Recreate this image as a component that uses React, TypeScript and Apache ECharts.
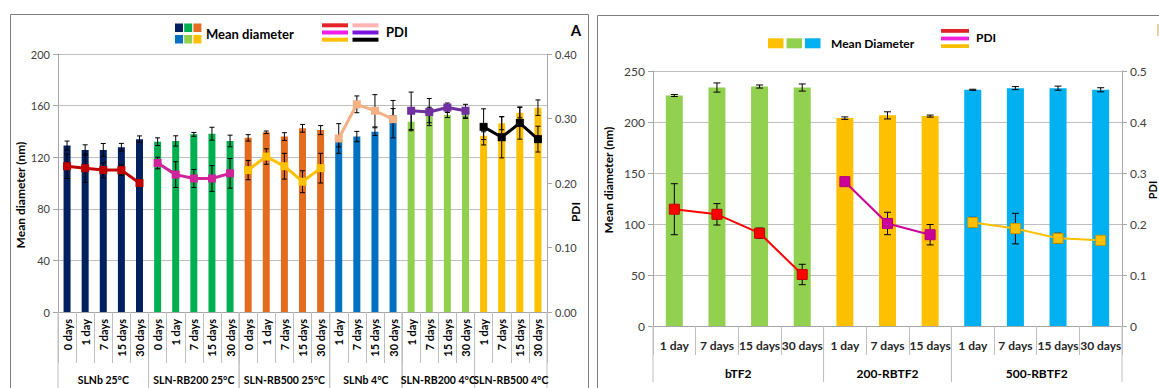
import { useEffect, useRef } from "react";
import * as echarts from "echarts";

// ---------- Panel A data ----------
const groupsA = ["SLNb 25°C", "SLN-RB200 25°C", "SLN-RB500 25°C", "SLNb 4°C", "SLN-RB200 4°C", "SLN-RB500 4°C"];
const daysA = [
  ["0 days", "1 day", "7 days", "15 days", "30 days"],
  ["0 days", "1 day", "7 days", "15 days", "30 days"],
  ["0 days", "1 day", "7 days", "15 days", "30 days"],
  ["1 day", "7 days", "15 days", "30 days"],
  ["1 day", "7 days", "15 days", "30 days"],
  ["1 day", "7 days", "15 days", "30 days"],
];
const diamA = [
  [129, 125.6, 125.6, 127.7, 134],
  [132, 132.6, 137.7, 138.2, 132.6],
  [135, 139.3, 136, 142.4, 141],
  [132, 136, 139.8, 152.7],
  [147.5, 152.7, 152.7, 154],
  [136.7, 146.3, 154.5, 158.4],
];
const diamErrA = [
  [3.5, 4, 5, 3, 2.5],
  [3, 4, 1.5, 5, 4.5],
  [2.5, 1, 3, 3, 3.5],
  [4, 4, 3, 5],
  [7, 6, 2, 4],
  [3, 5, 4, 6],
];
const pdiA = [
  [0.226, 0.223, 0.22, 0.22, 0.2],
  [0.231, 0.213, 0.207, 0.207, 0.215],
  [0.22, 0.241, 0.226, 0.202, 0.223],
  [0.269, 0.322, 0.312, 0.299],
  [0.312, 0.31, 0.317, 0.312],
  [0.287, 0.271, 0.293, 0.268],
];
const pdiErrA = [
  [0.019, 0.022, 0.012, 0.008, 0.004],
  [0.009, 0.02, 0.014, 0.02, 0.023],
  [0.015, 0.012, 0.02, 0.017, 0.023],
  [0.023, 0.013, 0.025, 0.029],
  [0.029, 0.021, 0.007, 0.01],
  [0.028, 0.032, 0.025, 0.02],
];
const barColorsA = ["#002060", "#00b050", "#e46c1f", "#0070c0", "#92d050", "#ffc000"];
const lineColorsA = ["#c00000", "#d1249b", "#ffc000", "#f4b183", "#7030a0", "#000000"];

// ---------- Panel B data ----------
const groupsB = ["bTF2", "200-RBTF2", "500-RBTF2"];
const daysB = [
  ["1 day", "7 days", "15 days", "30 days"],
  ["1 day", "7 days", "15 days"],
  ["1 day", "7 days", "15 days", "30 days"],
];
const diamB = [
  [226, 233.8, 234.8, 233.8],
  [203.8, 206.5, 205.8],
  [231.6, 233.2, 233.2, 231.6],
];
const diamErrB = [
  [1, 4.5, 1.5, 3.5],
  [1.2, 3.5, 1],
  [0.5, 1.5, 2, 2],
];
const pdiB = [
  [0.229, 0.219, 0.182, 0.101],
  [0.283, 0.201, 0.179],
  [0.203, 0.191, 0.172, 0.168],
];
const pdiErrB = [
  [0.05, 0.021, 0.01, 0.02],
  [0.004, 0.022, 0.02],
  [0.01, 0.03, 0.01, 0.007],
];
const barColorsB = ["#92d050", "#ffc000", "#00b0f0"];
const lineColorsB = ["#ff0000", "#cc0099", "#ffc000"];
const markerBorderB = ["#c00000", "#b0007f", "#c89600"];

const FONT = "Lato, 'Open Sans', sans-serif";

function flat<T>(a: T[][]): T[] {
  return ([] as T[]).concat(...a);
}
function startsOf(days: string[][]): number[] {
  let s = 0;
  return days.map((d) => {
    const r = s;
    s += d.length;
    return r;
  });
}

function errSeries(xi: number, yi: number, data: number[][], cap: number) {
  return {
    type: "custom",
    xAxisIndex: xi,
    yAxisIndex: yi,
    data,
    z: 3,
    silent: true,
    clip: false,
    encode: { x: 0, y: 1 },
    renderItem: (_p: any, api: any) => {
      const x = api.value(0);
      const v = api.value(1);
      const e = api.value(2);
      const t = api.coord([x, v + e]);
      const b = api.coord([x, v - e]);
      const cx = t[0];
      const st = { stroke: "#000", lineWidth: 1 };
      return {
        type: "group",
        children: [
          { type: "line", shape: { x1: cx, y1: t[1], x2: cx, y2: b[1] }, style: st },
          { type: "line", shape: { x1: cx - cap, y1: t[1], x2: cx + cap, y2: t[1] }, style: st },
          { type: "line", shape: { x1: cx - cap, y1: b[1], x2: cx + cap, y2: b[1] }, style: st },
        ],
      };
    },
  };
}

function groupSeries(xi: number, yi: number, names: string[], starts: number[], days: string[][], sepLen: number, labelOff: number, fontSize: number) {
  return {
    type: "custom",
    xAxisIndex: xi,
    yAxisIndex: yi,
    silent: true,
    clip: false,
    data: starts.map((s, i) => [s, days[i].length]),
    encode: { x: 0 },
    renderItem: (params: any, api: any) => {
      const s = api.value(0);
      const n = api.value(1);
      const p = api.coord([s, 0]);
      const w = api.size([1, 0])[0];
      const l = p[0] - w / 2;
      const r = l + n * w;
      const st = { stroke: "#bfbfbf", lineWidth: 1 };
      return {
        type: "group",
        children: [
          { type: "line", shape: { x1: l, y1: p[1], x2: l, y2: p[1] + sepLen }, style: st },
          { type: "line", shape: { x1: r, y1: p[1], x2: r, y2: p[1] + sepLen }, style: st },
          {
            type: "text",
            style: {
              text: names[params.dataIndex],
              x: (l + r) / 2,
              y: p[1] + labelOff,
              align: "center",
              verticalAlign: "middle",
              fill: "#000",
              fontSize,
              fontWeight: "bold",
              fontFamily: FONT,
            },
          },
        ],
      };
    },
  };
}

export default function App() {
  const ref = useRef<HTMLDivElement>(null);
  useEffect(() => {
    if (!ref.current) return;
    const chart = echarts.init(ref.current, undefined, { renderer: "svg" });

    const catsA = flat(daysA);
    const startA = startsOf(daysA);
    const catsB = flat(daysB);
    const startB = startsOf(daysB);

    const barA = flat(diamA.map((vals, g) => vals.map((v) => ({ value: v, itemStyle: { color: barColorsA[g] } }))));
    const barErrA = flat(diamA.map((vals, g) => vals.map((v, j) => [startA[g] + j, v, diamErrA[g][j]])));
    const pdiErrDataA = flat(pdiA.map((vals, g) => vals.map((v, j) => [startA[g] + j, v, pdiErrA[g][j]])));
    const linesA = pdiA.map((vals, g) => ({
      type: "line",
      xAxisIndex: 0,
      yAxisIndex: 1,
      z: 5,
      data: catsA.map((_, i) => (i >= startA[g] && i < startA[g] + vals.length ? vals[i - startA[g]] : null)),
      symbol: "rect",
      symbolSize: 8,
      lineStyle: { color: lineColorsA[g], width: 3 },
      itemStyle: { color: lineColorsA[g] },
    }));

    const barB = flat(diamB.map((vals, g) => vals.map((v) => ({ value: v, itemStyle: { color: barColorsB[g] } }))));
    const barErrB = flat(diamB.map((vals, g) => vals.map((v, j) => [startB[g] + j, v, diamErrB[g][j]])));
    const pdiErrDataB = flat(pdiB.map((vals, g) => vals.map((v, j) => [startB[g] + j, v, pdiErrB[g][j]])));
    const linesB = pdiB.map((vals, g) => ({
      type: "line",
      xAxisIndex: 1,
      yAxisIndex: 3,
      z: 5,
      data: catsB.map((_, i) => (i >= startB[g] && i < startB[g] + vals.length ? vals[i - startB[g]] : null)),
      symbol: "rect",
      symbolSize: 10,
      lineStyle: { color: lineColorsB[g], width: 2 },
      itemStyle: { color: lineColorsB[g], borderColor: markerBorderB[g], borderWidth: 1 },
    }));

    const axisLineGray = { show: true, lineStyle: { color: "#a6a6a6" } };
    const tickLbl = { fontFamily: FONT, fontSize: 11, color: "#404040" };

    const sqA = [
      ["#002060", "#00b050", "#e46c1f"],
      ["#0070c0", "#92d050", "#ffc000"],
    ];
    const legA: any[] = [];
    sqA.forEach((row, r) =>
      row.forEach((c, k) =>
        legA.push({ type: "rect", shape: { x: 175 + k * 9.2, y: 23.5 + r * 11.5, width: 8, height: 8.5 }, style: { fill: c } })
      )
    );
    const pdiLegA = [
      ["#e8242b", "#f01ee6", "#ffc000"],
      ["#ffb3b3", "#7a16e0", "#000000"],
    ];
    pdiLegA.forEach((col, k) =>
      col.forEach((c, r) =>
        legA.push({ type: "rect", shape: { x: 322 + k * 30.5, y: 23.3 + r * 7.2, width: 26, height: 4 }, style: { fill: c } })
      )
    );
    const legB: any[] = [];
    ["#ffc000", "#92d050", "#00b0f0"].forEach((c, k) =>
      legB.push({ type: "rect", shape: { x: 768 + k * 18.5, y: 38.3, width: 15.5, height: 10 }, style: { fill: c } })
    );
    ["#e0202a", "#ee22dd", "#ffc000"].forEach((c, r) =>
      legB.push({ type: "rect", shape: { x: 941, y: 29 + r * 7.6, width: 28, height: 3.8 }, style: { fill: c } })
    );

    const txt = (text: string, x: number, y: number, size: number, rot = 0, align = "left") => ({
      type: "text",
      x,
      y,
      rotation: rot,
      style: { text, x: 0, y: 0, align, verticalAlign: "middle", fontFamily: FONT, fontSize: size, fontWeight: "bold", fill: "#000" },
    });

    chart.setOption({
      animation: false,
      grid: [
        { left: 58, top: 54, width: 489, height: 258 },
        { left: 653, top: 71, width: 469, height: 255 },
      ],
      xAxis: [
        {
          type: "category",
          gridIndex: 0,
          data: catsA,
          axisLine: axisLineGray,
          axisTick: { show: true, interval: 0, length: 51, lineStyle: { color: "#bfbfbf" } },
          axisLabel: { interval: 0, rotate: 90, margin: 7, fontFamily: FONT, fontSize: 11, fontWeight: "bold", color: "#000" },
        },
        {
          type: "category",
          gridIndex: 1,
          data: catsB,
          axisLine: axisLineGray,
          axisTick: { show: true, interval: 0, length: 29, lineStyle: { color: "#bfbfbf" } },
          axisLabel: { interval: 0, margin: 13, fontFamily: FONT, fontSize: 12, fontWeight: "bold", color: "#262626" },
        },
      ],
      yAxis: [
        {
          type: "value",
          gridIndex: 0,
          min: 0,
          max: 200,
          interval: 40,
          axisLine: axisLineGray,
          axisTick: { show: true, length: 5, lineStyle: { color: "#a6a6a6" } },
          axisLabel: { ...tickLbl, margin: 8 },
          splitLine: { show: true, lineStyle: { color: "#bfbfbf" } },
        },
        {
          type: "value",
          gridIndex: 0,
          position: "right",
          min: 0,
          max: 0.4,
          interval: 0.1,
          axisLine: axisLineGray,
          axisTick: { show: true, length: 5, lineStyle: { color: "#a6a6a6" } },
          axisLabel: { ...tickLbl, margin: 8, formatter: (v: number) => v.toFixed(2) },
          splitLine: { show: false },
        },
        {
          type: "value",
          gridIndex: 1,
          min: 0,
          max: 250,
          interval: 50,
          axisLine: axisLineGray,
          axisTick: { show: true, length: 5, lineStyle: { color: "#a6a6a6" } },
          axisLabel: { ...tickLbl, fontSize: 12, margin: 8 },
          splitLine: { show: true, lineStyle: { color: "#bfbfbf" } },
        },
        {
          type: "value",
          gridIndex: 1,
          position: "right",
          min: 0,
          max: 0.5,
          interval: 0.1,
          axisLine: axisLineGray,
          axisTick: { show: true, length: 5, lineStyle: { color: "#a6a6a6" } },
          axisLabel: { ...tickLbl, fontSize: 12, margin: 8 },
          splitLine: { show: false },
        },
      ],
      series: [
        { type: "bar", xAxisIndex: 0, yAxisIndex: 0, data: barA, barWidth: 7, z: 2 },
        errSeries(0, 0, barErrA, 2.5),
        errSeries(0, 1, pdiErrDataA, 2.5),
        ...linesA,
        groupSeries(0, 0, groupsA, startA, daysA, 80, 68, 10.5),
        { type: "bar", xAxisIndex: 1, yAxisIndex: 2, data: barB, barWidth: 17, z: 2 },
        errSeries(1, 2, barErrB, 3.5),
        errSeries(1, 3, pdiErrDataB, 3.5),
        ...linesB,
        groupSeries(1, 2, groupsB, startB, daysB, 56, 47, 12),
      ],
      graphic: [
        { type: "rect", shape: { x: 10.5, y: 14.5, width: 578, height: 420 }, style: { fill: "none", stroke: "#7f7f7f", lineWidth: 1 }, z: -1 },
        { type: "rect", shape: { x: 597.5, y: 15.5, width: 620, height: 420 }, style: { fill: "none", stroke: "#7f7f7f", lineWidth: 1 }, z: -1 },
        ...legA,
        txt("Mean diameter", 206, 33.5, 13),
        txt("PDI", 386, 32, 13),
        txt("A", 576, 30, 15, 0, "center"),
        txt("Mean diameter (nm)", 20, 195, 12, Math.PI / 2, "center"),
        txt("PDI", 575, 212, 12, Math.PI / 2, "center"),
        ...legB,
        txt("Mean Diameter", 831, 43.5, 12),
        txt("PDI", 976, 37, 12),
        txt("Mean diameter (nm)", 608, 180, 12, Math.PI / 2, "center"),
        txt("PDI", 1152, 190, 11, Math.PI / 2, "center"),
        { type: "rect", shape: { x: 1157, y: 24, width: 2, height: 12 }, style: { fill: "#e8cfa8" } },
      ],
    });
    return () => chart.dispose();
  }, []);
  return <div ref={ref} style={{ position: "absolute", left: 0, top: 0, width: 1159, height: 388, background: "#fff" }} />;
}
